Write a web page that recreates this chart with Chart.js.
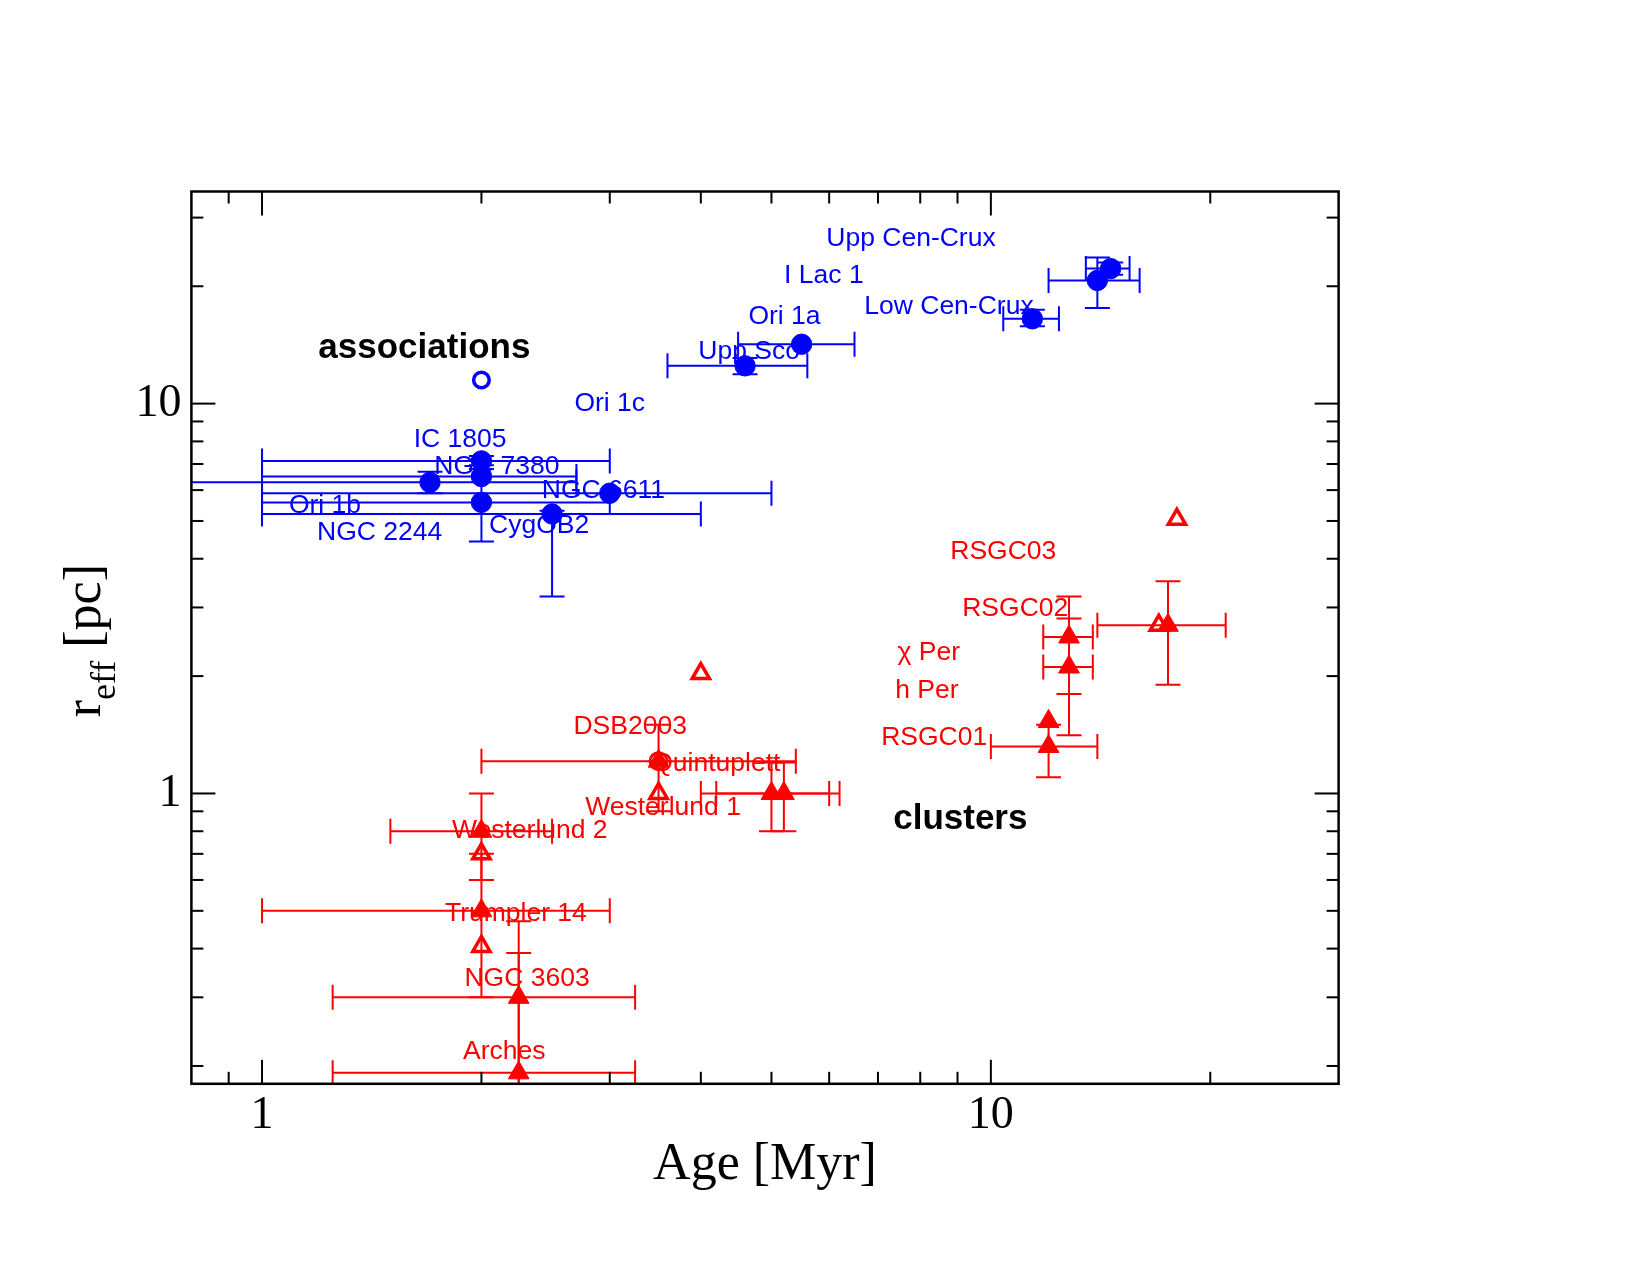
<!DOCTYPE html>
<html>
<head>
<meta charset="utf-8">
<script src="https://cdn.jsdelivr.net/npm/chart.js"></script>
<style>
  html, body { margin: 0; padding: 0; background: #fff; }
  #wrap { width: 1650px; height: 1275px; position: relative; }
</style>
</head>
<body>
<div id="wrap"><canvas id="sizeChart"></canvas></div>
<script>
// OB associations (blue filled circles)
const assocAge   = [2.0, 2.0, 1.7, 3.0, 2.0, 2.5, 4.6, 5.5, 11.4, 14.0, 14.6];
const assocAgeLo = [1.0, 1.0, 0.7, 1.0, 1.0, 1.0, 3.6, 4.5, 10.4, 12.0, 13.5];
const assocAgeHi = [3.0, 2.7, 2.7, 5.0, 3.0, 4.0, 5.6, 6.5, 12.4, 16.0, 15.5];
const assocR     = [7.13, 6.5, 6.28, 5.89, 5.58, 5.21, 12.5, 14.2, 16.5, 20.7, 22.2];
const assocRLo   = [6.95, null, 5.89, null, 4.43, 3.2, 11.9, null, 15.8, 17.6, 21.4];
const assocRHi   = [7.34, null, 6.69, null, 6.8, 5.31, 13.1, null, 17.4, 23.7, 23.0];
const assocOpenAge = [2.0];
const assocOpenR   = [11.5];

// young massive clusters (red filled triangles)
const clustAge   = [2.25, 2.25, 2.0, 2.0, 3.5, 5.0, 5.2, 12.0, 12.0, 12.8, 12.8, 17.5];
const clustAgeLo = [1.25, 1.25, 1.0, 1.5, 2.0, 4.0, 4.2, 10.0, null, 11.8, 11.8, 14.0];
const clustAgeHi = [3.25, 3.25, 3.0, 2.5, 5.4, 6.0, 6.2, 14.0, null, 13.8, 13.8, 21.0];
const clustR     = [0.192, 0.30, 0.50, 0.80, 1.21, 1.0, 1.0, 1.32, 1.53, 2.52, 2.11, 2.7];
const clustRLo   = [0.10, 0.13, 0.30, 0.60, 0.90, 0.80, 0.80, 1.10, null, 1.80, 1.41, 1.90];
const clustRHi   = [0.39, 0.47, 0.70, 1.00, 1.50, 1.20, 1.20, 1.50, null, 3.20, 2.81, 3.50];
const clustOpenAge = [2.0, 2.0, 3.5, 4.0, 17.0, 18.0];
const clustOpenR   = [0.70, 0.405, 1.0, 2.03, 2.7, 5.05];
const clustCircAge = [3.5];
const clustCircR   = [1.21];

// name tags (data coordinates of text centre)
const assocLabels   = ['Upp Cen-Crux', 'I Lac 1', 'Ori 1a', 'Low Cen-Crux', 'Upp Sco', 'Ori 1c', 'IC 1805', 'NGC 7380', 'NGC 6611', 'Ori 1b', 'CygOB2', 'NGC 2244'];
const assocLabelAge = [7.77, 5.90, 5.21, 8.76, 4.66, 3.0, 1.87, 2.10, 2.94, 1.22, 2.40, 1.45];
const assocLabelR   = [26.5, 21.3, 16.7, 17.7, 13.6, 10.0, 8.10, 6.89, 5.97, 5.48, 4.87, 4.66];
const clustLabels   = ['RSGC03', 'RSGC02', 'χ Per', 'h Per', 'RSGC01', 'DSB2003', 'Quintuplett', 'Westerlund 1', 'Westerlund 2', 'Trumpler 14', 'NGC 3603', 'Arches'];
const clustLabelAge = [10.4, 10.8, 8.22, 8.17, 8.36, 3.20, 4.20, 3.55, 2.33, 2.23, 2.31, 2.15];
const clustLabelR   = [4.17, 2.98, 2.30, 1.84, 1.39, 1.48, 1.19, 0.917, 0.805, 0.493, 0.335, 0.217];
const groupLabels   = ['associations', 'clusters'];
const groupLabelAge = [1.67, 9.08];
const groupLabelR   = [13.9, 0.856];

// axis ticks
const xMajor = [1, 10];
const xMinor = [0.9, 2, 3, 4, 5, 6, 7, 8, 9, 20];
const yMajor = [1, 10];
const yMinor = [0.2, 0.3, 0.4, 0.5, 0.6, 0.7, 0.8, 0.9, 2, 3, 4, 5, 6, 7, 8, 9, 20, 30];

const BLUE = '#0000ff';
const RED = '#ff0000';
const SANS = '"Liberation Sans", Arial, sans-serif';
const SERIF = '"Liberation Serif", "Times New Roman", serif';

const pts = (xs, ys) => xs.map((x, i) => ({ x: x, y: ys[i] }));

function drawErrors(ctx, sx, sy, x, xlo, xhi, y, ylo, yhi, color) {
  const cap = 12.5;
  ctx.strokeStyle = color;
  ctx.lineWidth = 2;
  const seg = (a, b, c, d) => { ctx.beginPath(); ctx.moveTo(a, b); ctx.lineTo(c, d); ctx.stroke(); };
  for (let i = 0; i < x.length; i++) {
    const px = sx.getPixelForValue(x[i]);
    const py = sy.getPixelForValue(y[i]);
    if (xlo[i] != null) {
      const a = sx.getPixelForValue(xlo[i]), b = sx.getPixelForValue(xhi[i]);
      seg(a, py, b, py);
      seg(a, py - cap, a, py + cap);
      seg(b, py - cap, b, py + cap);
    }
    if (ylo[i] != null) {
      const a = sy.getPixelForValue(ylo[i]), b = sy.getPixelForValue(yhi[i]);
      seg(px, a, px, b);
      seg(px - cap, a, px + cap, a);
      seg(px - cap, b, px + cap, b);
    }
  }
}

function drawTags(ctx, sx, sy, names, ages, rs, color, font) {
  ctx.fillStyle = color;
  ctx.font = font;
  ctx.textAlign = 'center';
  ctx.textBaseline = 'middle';
  names.forEach((t, i) => ctx.fillText(t, sx.getPixelForValue(ages[i]), sy.getPixelForValue(rs[i])));
}

const framePlugin = {
  id: 'framePlugin',
  beforeDatasetsDraw(chart) {
    const { ctx, chartArea: ca } = chart;
    const sx = chart.scales.x, sy = chart.scales.y;
    ctx.save();
    ctx.beginPath();
    ctx.rect(ca.left, ca.top, ca.width, ca.height);
    ctx.clip();
    drawErrors(ctx, sx, sy, assocAge, assocAgeLo, assocAgeHi, assocR, assocRLo, assocRHi, BLUE);
    drawErrors(ctx, sx, sy, clustAge, clustAgeLo, clustAgeHi, clustR, clustRLo, clustRHi, RED);
    ctx.restore();
  },
  afterDraw(chart) {
    const { ctx, chartArea: ca } = chart;
    const sx = chart.scales.x, sy = chart.scales.y;
    ctx.save();

    drawTags(ctx, sx, sy, assocLabels, assocLabelAge, assocLabelR, BLUE, '26.5px ' + SANS);
    drawTags(ctx, sx, sy, clustLabels, clustLabelAge, clustLabelR, RED, '26.5px ' + SANS);
    drawTags(ctx, sx, sy, groupLabels, groupLabelAge, groupLabelR, '#000', 'bold 35px ' + SANS);

    // inward ticks on all four sides
    ctx.strokeStyle = '#000';
    ctx.lineWidth = 2;
    const seg = (a, b, c, d) => { ctx.beginPath(); ctx.moveTo(a, b); ctx.lineTo(c, d); ctx.stroke(); };
    const xt = (vals, len) => vals.forEach(v => {
      const p = sx.getPixelForValue(v);
      seg(p, ca.bottom, p, ca.bottom - len);
      seg(p, ca.top, p, ca.top + len);
    });
    const yt = (vals, len) => vals.forEach(v => {
      const p = sy.getPixelForValue(v);
      seg(ca.left, p, ca.left + len, p);
      seg(ca.right, p, ca.right - len, p);
    });
    xt(xMajor, 24); xt(xMinor, 12);
    yt(yMajor, 24); yt(yMinor, 12);

    ctx.lineWidth = 2.5;
    ctx.strokeRect(ca.left, ca.top, ca.width, ca.height);

    // axis titles
    ctx.fillStyle = '#000';
    ctx.font = '52px ' + SERIF;
    ctx.textAlign = 'center';
    ctx.textBaseline = 'alphabetic';
    ctx.fillText('Age [Myr]', (ca.left + ca.right) / 2, ca.bottom + 95);

    ctx.translate(ca.left - 91, (ca.top + ca.bottom) / 2);
    ctx.rotate(-Math.PI / 2);
    ctx.textAlign = 'left';
    const big = '52px ' + SERIF, small = '36px ' + SERIF;
    ctx.font = big; const w1 = ctx.measureText('r').width, w3 = ctx.measureText(' [pc]').width;
    ctx.font = small; const w2 = ctx.measureText('eff').width;
    let x0 = -(w1 + w2 + w3) / 2 - 3;
    ctx.font = big; ctx.fillText('r', x0, 0);
    ctx.font = small; ctx.fillText('eff', x0 + w1, 15);
    ctx.font = big; ctx.fillText(' [pc]', x0 + w1 + w2, 0);
    ctx.restore();
  }
};

new Chart(document.getElementById('sizeChart'), {
  type: 'scatter',
  data: {
    datasets: [
      { data: pts(assocAge, assocR), pointStyle: 'circle', pointRadius: 10.2, backgroundColor: BLUE, borderColor: BLUE, borderWidth: 1 },
      { data: pts(assocOpenAge, assocOpenR), pointStyle: 'circle', pointRadius: 7.8, backgroundColor: 'rgba(0,0,0,0)', borderColor: BLUE, borderWidth: 3.5 },
      { data: pts(clustAge, clustR), pointStyle: 'triangle', pointRadius: 12, backgroundColor: RED, borderColor: RED, borderWidth: 1 },
      { data: pts(clustOpenAge, clustOpenR), pointStyle: 'triangle', pointRadius: 10, backgroundColor: 'rgba(0,0,0,0)', borderColor: RED, borderWidth: 3.5 },
      { data: pts(clustCircAge, clustCircR), pointStyle: 'circle', pointRadius: 8.5, backgroundColor: 'rgba(0,0,0,0)', borderColor: RED, borderWidth: 3 }
    ]
  },
  options: {
    responsive: true,
    maintainAspectRatio: false,
    animation: false,
    events: [],
    layout: { padding: { top: 191.5, right: 311.4, bottom: 0, left: 0 } },
    plugins: { legend: { display: false }, tooltip: { enabled: false } },
    scales: {
      x: {
        type: 'logarithmic', position: 'bottom', min: 0.8, max: 30,
        grid: { display: false, drawTicks: false }, border: { display: false },
        afterFit(s) { s.height = 191.2; },
        afterBuildTicks(s) { s.ticks = xMajor.map(v => ({ value: v })); },
        ticks: { color: '#000', autoSkip: false, maxRotation: 0, padding: 5,
                 font: { family: SERIF, size: 46 }, callback: v => String(v) }
      },
      y: {
        type: 'logarithmic', position: 'left', min: 0.18, max: 35,
        grid: { display: false, drawTicks: false }, border: { display: false },
        afterFit(s) { s.width = 191.4; },
        afterBuildTicks(s) { s.ticks = yMajor.map(v => ({ value: v })); },
        ticks: { color: '#000', autoSkip: false, padding: 10,
                 font: { family: SERIF, size: 46 }, callback: v => String(v) }
      }
    }
  },
  plugins: [framePlugin]
});
</script>
</body>
</html>
